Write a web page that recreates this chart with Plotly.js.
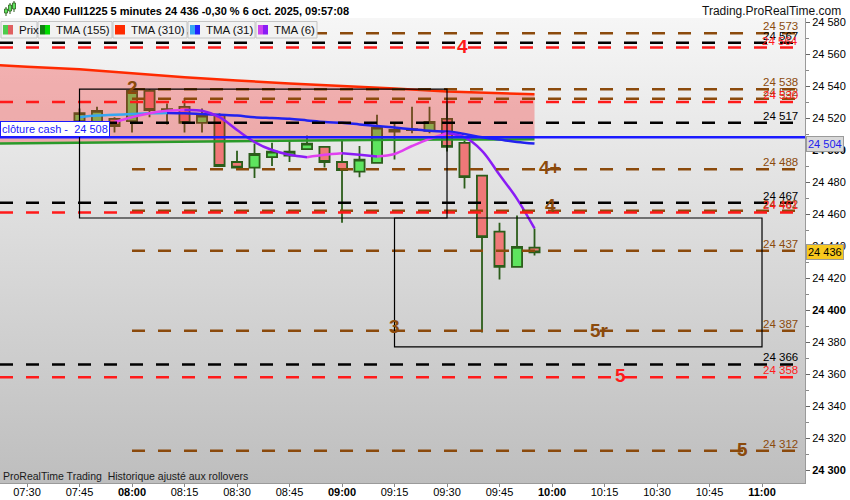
<!DOCTYPE html>
<html>
<head>
<meta charset="utf-8">
<script src="https://cdn.plot.ly/plotly-3.0.1.min.js"></script>
<style>
  html, body { margin: 0; padding: 0; background: #fff; }
  #chart { width: 850px; height: 500px; }
</style>
</head>
<body>
<div id="chart"></div>
<script>
const day = "2025-10-06 ";

// 5 minute candles
const candleTimes = ["07:45", "07:50", "07:55", "08:00", "08:05", "08:10", "08:15", "08:20", "08:25", "08:30",
  "08:35", "08:40", "08:45", "08:50", "08:55", "09:00", "09:05", "09:10", "09:15", "09:20",
  "09:25", "09:30", "09:35", "09:40", "09:45", "09:50", "09:55"];
const opens = [24518, 24517, 24519.5, 24518, 24537, 24525, 24527, 24517, 24522, 24492.5,
  24489, 24495.5, 24496.5, 24500.5, 24502, 24492.5, 24486.5, 24492, 24511.5, 24512.5,
  24512, 24519.5, 24504.5, 24484, 24449, 24427, 24439];
const highs = [24526, 24527, 24520.5, 24538, 24538, 24529, 24532.5, 24526, 24523, 24499.5,
  24504, 24504.5, 24505.5, 24509, 24502, 24506, 24502.5, 24522, 24517, 24527,
  24527, 24530, 24506, 24484, 24454.5, 24459, 24451];
const lows = [24516, 24511, 24511, 24511, 24520.5, 24516, 24511, 24511, 24490, 24489,
  24482.5, 24490, 24492.5, 24500.5, 24489, 24454.5, 24483, 24492, 24494, 24510.5,
  24510.5, 24499, 24476, 24386, 24419, 24427, 24434];
const closes = [24523, 24524.5, 24515, 24537, 24525, 24525.5, 24517, 24521.5, 24490, 24489,
  24497.5, 24499, 24499, 24504, 24492.5, 24487.5, 24494, 24514, 24512.5, 24513,
  24517.5, 24502, 24483, 24445.5, 24427, 24439.5, 24436];

// moving averages
const tma6Times = candleTimes.slice(2);
const tma6 = [24517.5, 24520.5, 24523, 24524.5, 24525, 24524.5, 24520.5, 24512.5, 24505, 24500,
  24497, 24495.5, 24497, 24498, 24497, 24496, 24497.5, 24502.5, 24507, 24510.5,
  24508, 24499.5, 24484.5, 24469.5, 24451];
const tma31 = [24520.5, 24521.5, 24522, 24522.5, 24523, 24523.2, 24523, 24522.5, 24522, 24521.5,
  24520.5, 24520, 24519.5, 24518.5, 24517.5, 24517, 24516, 24515, 24514, 24513,
  24512, 24511.5, 24510, 24508, 24506.5, 24505, 24504];
const longTimes = ["07:15", "07:30", "07:45", "08:00", "08:15", "08:30", "08:45", "09:00", "09:15", "09:30", "09:45", "09:55"];
const tma310 = [24554, 24552, 24550.5, 24548, 24545.5, 24543.5, 24541.5, 24540, 24538.5, 24536.5, 24535.3, 24534.8];
const tma155 = [24504, 24504.3, 24504.7, 24505.1, 24505.5, 24505.8, 24506, 24506.2, 24506.4, 24506.5, 24506.6, 24506.7];

// horizontal levels
const brownLevels = [24573, 24538, 24532, 24488, 24462, 24437, 24387, 24312];
const blackLevels = [24567, 24517, 24467, 24366];
const redLevels = [24564, 24530, 24461, 24358];
const cashClose = 24508;
const lastPrice = 24436;
const tma31Last = 24504;

// wave labels
const waveTexts = ["2", "4", "4+", "4", "3", "5r", "5", "5"];
const waveTimes = ["08:00", "09:34:30", "09:59:30", "09:59:30", "09:15", "10:13:40", "10:19:40", "10:54:20"];
const wavePrices = [24539, 24565, 24489, 24465.5, 24389.5, 24387.5, 24359, 24313];
const waveKinds = ["brown", "red", "brown", "brown", "brown", "brown", "red", "brown"];

// boxes drawn on the chart
const zoneStarts = ["07:45", "09:15"];
const zoneEnds = ["09:30", "11:00"];
const zoneTops = [24538, 24457.5];
const zoneBottoms = [24457.5, 24377];

// axes
const xTickTimes = ["07:30", "07:45", "08:00", "08:15", "08:30", "08:45", "09:00", "09:15",
  "09:30", "09:45", "10:00", "10:15", "10:30", "10:45", "11:00"];
const yTicks = [24300, 24320, 24340, 24360, 24380, 24400, 24420, 24440, 24460, 24480,
  24500, 24520, 24540, 24560, 24580];

const xStart = day + "07:22:17", xEnd = day + "11:12:17";
const colors = { brown: "#8b4a0c", black: "#000000", red: "#ff1a1a" };

const t = (s) => day + s;
const fmt = (v) => { const s = String(Math.round(v)); return s.slice(0, 2) + " " + s.slice(2); };
const px = (x) => x / 805;
const py = (y) => (483 - y) / 465;

// split a series into rising / falling runs
function slopeRuns(xs, ys) {
  const runs = [];
  let cur = null;
  for (let i = 1; i < ys.length; i++) {
    const up = ys[i] >= ys[i - 1];
    if (!cur || cur.up !== up) {
      cur = { up, x: [xs[i - 1]], y: [ys[i - 1]] };
      runs.push(cur);
    }
    cur.x.push(xs[i]);
    cur.y.push(ys[i]);
  }
  return runs;
}

const traces = [];

// band between the long averages
traces.push({ x: longTimes.map(t), y: tma155, type: "scatter", mode: "lines", line: { width: 0 }, hoverinfo: "skip" });
traces.push({ x: longTimes.map(t), y: tma310, type: "scatter", mode: "lines", line: { width: 0 },
  fill: "tonexty", fillcolor: "rgba(245,40,40,0.32)", hoverinfo: "skip" });
traces.push({ x: longTimes.map(t), y: tma155, type: "scatter", mode: "lines", line: { color: "#2a9a2a", width: 2.5 } });
traces.push({ x: longTimes.map(t), y: tma310, type: "scatter", mode: "lines", line: { color: "#ff2a00", width: 2.5 } });

traces.push({
  type: "candlestick",
  x: candleTimes.map(t), open: opens, high: highs, low: lows, close: closes,
  increasing: { fillcolor: "#5ee45e", line: { color: "#2b5d1a", width: 1.8 } },
  decreasing: { fillcolor: "#f07878", line: { color: "#2b5d1a", width: 1.8 } },
  whiskerwidth: 0,
});

slopeRuns(candleTimes.map(t), tma31).forEach((r) => {
  traces.push({ x: r.x, y: r.y, type: "scatter", mode: "lines",
    line: { color: r.up ? "#35a6f2" : "#2222ee", width: 2.5, shape: "spline" } });
});
slopeRuns(tma6Times.map(t), tma6).forEach((r) => {
  traces.push({ x: r.x, y: r.y, type: "scatter", mode: "lines",
    line: { color: r.up ? "#e040f0" : "#8a1cf5", width: 2.5, shape: "spline" } });
});

const shapes = [];
const annotations = [];

function addLevels(levels, kind) {
  levels.forEach((v) => {
    shapes.push({ type: "line", xref: "x", yref: "y", x0: kind === "brown" ? t("08:00") : xStart, x1: xEnd, y0: v, y1: v,
      line: { color: colors[kind], width: 2.5, dash: "13px,13px" } });
    annotations.push({ xref: "paper", yref: "y", x: px(800), y: v, xanchor: "right", yanchor: "middle", yshift: 7,
      text: fmt(v), showarrow: false, font: { size: 11.5, color: colors[kind] } });
  });
}
addLevels(brownLevels, "brown");
addLevels(blackLevels, "black");
addLevels(redLevels, "red");

shapes.push({ type: "line", xref: "x", yref: "y", x0: xStart, x1: xEnd, y0: cashClose, y1: cashClose,
  line: { color: "#1a1aff", width: 2.5 } });

zoneStarts.forEach((s, i) => {
  shapes.push({ type: "rect", xref: "x", yref: "y", x0: t(s), x1: t(zoneEnds[i]), y0: zoneBottoms[i], y1: zoneTops[i],
    line: { color: "#000", width: 1.2 } });
});

waveTexts.forEach((s, i) => {
  annotations.push({ xref: "x", yref: "y", x: t(waveTimes[i]), y: wavePrices[i], text: "<b>" + s + "</b>",
    showarrow: false, font: { size: 19, color: colors[waveKinds[i]] } });
});

// price boxes on the axis
annotations.push({ xref: "paper", yref: "y", x: 1, y: tma31Last, xanchor: "left", xshift: 1, text: fmt(tma31Last),
  showarrow: false, bgcolor: "#d9d9d9", bordercolor: "#9a9a9a", borderwidth: 1, borderpad: 1,
  font: { size: 11, color: "#2222ee" } });
annotations.push({ xref: "paper", yref: "y", x: 1, y: lastPrice, xanchor: "left", xshift: 1, text: fmt(lastPrice),
  showarrow: false, bgcolor: "#f7c81e", bordercolor: "#9a9a9a", borderwidth: 1, borderpad: 1,
  font: { size: 11, color: "#000" } });
annotations.push({ xref: "paper", yref: "y", x: 0, y: cashClose, xanchor: "left", yanchor: "bottom",
  text: "clôture cash -  " + fmt(cashClose), showarrow: false, bgcolor: "#ffffff", bordercolor: "#1a1aff",
  borderwidth: 1, borderpad: 1, font: { size: 11, color: "#1a1aff" } });

// header
annotations.push({ xref: "paper", yref: "paper", x: px(23), y: py(11), xanchor: "left", yanchor: "middle",
  text: "<b>DAX40 Full1225 5 minutes 24 436 -0,30 % 6 oct. 2025, 09:57:08</b>", showarrow: false,
  font: { size: 11, color: "#000" } });
annotations.push({ xref: "paper", yref: "paper", x: px(843), y: py(11), xanchor: "right", yanchor: "middle",
  text: "Trading.ProRealTime.com", showarrow: false, font: { size: 12, color: "#111" } });
[[6, 9, 13], [10, 5, 11], [14, 3, 9]].forEach(([cx, a, b]) => {
  shapes.push({ type: "line", xref: "paper", yref: "paper", x0: px(cx), x1: px(cx), y0: py(a - 2), y1: py(b + 3),
    line: { color: "#2b5d1a", width: 1 } });
  shapes.push({ type: "rect", xref: "paper", yref: "paper", x0: px(cx - 1.5), x1: px(cx + 1.5), y0: py(a), y1: py(b),
    fillcolor: "#5ee45e", line: { color: "#2b5d1a", width: 0.8 } });
});

// legend boxes
const legendItems = [
  { text: "Prix", x0: 1, x1: 37, c1: "#4ccc4c", c2: "#e06060" },
  { text: "TMA (155)", x0: 38, x1: 112, c1: "#128012", c2: "#00dd00" },
  { text: "TMA (310)", x0: 113, x1: 187, c1: "#ff2a00", c2: "#ff2a00" },
  { text: "TMA (31)", x0: 188, x1: 255, c1: "#35a6f2", c2: "#2222ff" },
  { text: "TMA (6)", x0: 256, x1: 317, c1: "#cc44ee", c2: "#8a1cf5" },
];
legendItems.forEach((it) => {
  shapes.push({ type: "rect", xref: "paper", yref: "paper", x0: px(it.x0), x1: px(it.x1), y0: py(38), y1: py(21.5),
    fillcolor: "#f2f2f2", line: { color: "#c4c4c4", width: 1 } });
  shapes.push({ type: "rect", xref: "paper", yref: "paper", x0: px(it.x0 + 2), x1: px(it.x0 + 7), y0: py(34.5), y1: py(25),
    fillcolor: it.c1, line: { width: 0 } });
  shapes.push({ type: "rect", xref: "paper", yref: "paper", x0: px(it.x0 + 7), x1: px(it.x0 + 12), y0: py(34.5), y1: py(25),
    fillcolor: it.c2, line: { width: 0 } });
  annotations.push({ xref: "paper", yref: "paper", x: px(it.x0 + 15.5), y: py(30), xanchor: "left", yanchor: "middle",
    text: it.text, showarrow: false, font: { size: 11.5, color: "#111" } });
});

annotations.push({ xref: "paper", yref: "paper", x: px(1), y: py(476), xanchor: "left", yanchor: "middle",
  text: "ProRealTime Trading  Historique ajusté aux rollovers", showarrow: false, font: { size: 10.5, color: "#1a1a1a" } });

const fullHour = (s) => s.endsWith(":00");
const bgSvg = '<svg xmlns="http://www.w3.org/2000/svg" width="10" height="100" preserveAspectRatio="none">' +
  '<defs><linearGradient id="g" x1="0" y1="0" x2="0" y2="1"><stop offset="0" stop-color="#f6f6f6"/>' +
  '<stop offset="1" stop-color="#bebebe"/></linearGradient></defs><rect width="10" height="100" fill="url(#g)"/></svg>';

const layout = {
  width: 850, height: 500,
  margin: { l: 0, r: 45, t: 18, b: 17 },
  paper_bgcolor: "#ffffff",
  plot_bgcolor: "rgba(0,0,0,0)",
  font: { family: "Liberation Sans, Arial, sans-serif", size: 11, color: "#000" },
  showlegend: false,
  boxgap: 0.17,
  images: [{ source: "data:image/svg+xml;charset=utf-8," + encodeURIComponent(bgSvg), xref: "paper", yref: "paper",
    x: 0, y: 1, sizex: 1, sizey: 1, sizing: "stretch", layer: "below", xanchor: "left", yanchor: "top" }],
  xaxis: {
    type: "date", range: [xStart, xEnd], rangeslider: { visible: false },
    tickmode: "array", tickvals: xTickTimes.map(t),
    ticktext: xTickTimes.map((s) => (fullHour(s) ? "<b>" + s + "</b>" : s)),
    ticks: "outside", ticklen: 3, tickcolor: "#888", showgrid: false, zeroline: false,
    ticklabelstandoff: -4,
    showline: true, linecolor: "#9a9a9a", linewidth: 1, tickfont: { size: 11 },
  },
  yaxis: {
    side: "right", range: [24291.9, 24582.5], tickmode: "array", tickvals: yTicks,
    ticktext: yTicks.map((v) => (v % 100 === 0 ? "<b>" + fmt(v) + "</b>" : fmt(v))),
    ticks: "outside", ticklen: 4, tickcolor: "#666", showgrid: false, zeroline: false,
    showline: true, linecolor: "#9a9a9a", linewidth: 1, tickfont: { size: 11 },
    minor: { tickmode: "linear", tick0: 24290, dtick: 20, ticks: "outside", ticklen: 3, tickcolor: "#888", showgrid: false },
  },
  shapes: shapes,
  annotations: annotations,
};

Plotly.newPlot("chart", traces, layout, { displayModeBar: false, staticPlot: true });
</script>
</body>
</html>
